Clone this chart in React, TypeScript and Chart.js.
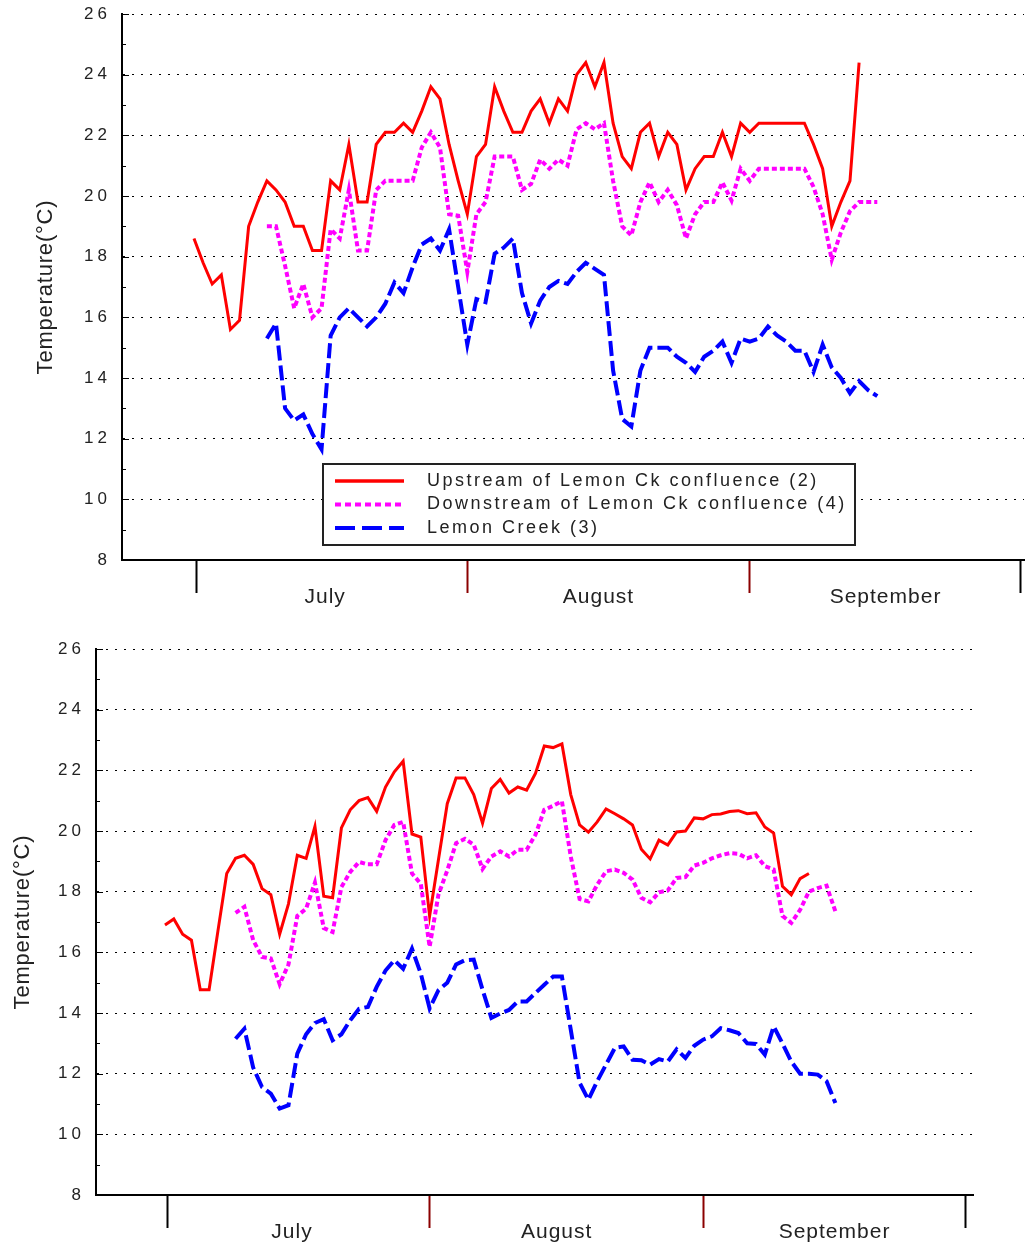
import React, { useEffect, useRef } from 'react';
import { Chart, registerables } from 'chart.js';

Chart.register(...registerables);
Chart.defaults.font.family = '"Liberation Sans", Arial, sans-serif';
Chart.defaults.color = '#222';

// ---- categories / ticks ----
const months = ['July', 'August', 'September'];
const monthBoundaries = [0.3, 30, 61, 90.7]; // day index of month boundaries
const monthLabelPos = [14.4, 44.4, 75.9]; // day index where month names sit
const seriesNames = [
  'Upstream of Lemon Ck confluence (2)',
  'Downstream of Lemon Ck confluence (4)',
  'Lemon Creek (3)',
];
const upstreamStartDay = 0;
const otherStartDay = 8;

// ---- top panel (°C, one value per day) ----
const topUpstream = [
  18.6, 17.8, 17.1, 17.4, 15.6, 15.9, 19.0, 19.8, 20.5, 20.2,
  19.8, 19.0, 19.0, 18.2, 18.2, 20.5, 20.2, 21.7, 19.8, 19.8,
  21.7, 22.1, 22.1, 22.4, 22.1, 22.8, 23.6, 23.2, 21.7, 20.5,
  19.4, 21.3, 21.7, 23.6, 22.8, 22.1, 22.1, 22.8, 23.2, 22.4,
  23.2, 22.8, 24.0, 24.4, 23.6, 24.4, 22.4, 21.3, 20.9, 22.1,
  22.4, 21.3, 22.1, 21.7, 20.2, 20.9, 21.3, 21.3, 22.1, 21.3,
  22.4, 22.1, 22.4, 22.4, 22.4, 22.4, 22.4, 22.4, 21.7, 20.9,
  19.0, 19.8, 20.5, 24.4,
];
const topDownstream = [
  19.0, 19.0,
  17.7, 16.3, 17.1, 16.0, 16.3, 18.9, 18.6, 20.2, 18.2, 18.2,
  20.2, 20.5, 20.5, 20.5, 20.5, 21.6, 22.1, 21.6, 19.4, 19.35,
  17.5, 19.4, 19.8, 21.3, 21.3, 21.3, 20.2, 20.4, 21.2, 20.9,
  21.2, 21.0, 22.2, 22.4, 22.2, 22.4, 20.5, 19.0, 18.7, 19.8,
  20.45, 19.8, 20.2, 19.7, 18.6, 19.4, 19.8, 19.8, 20.45, 19.85,
  20.9, 20.5, 20.9, 20.9, 20.9, 20.9, 20.9, 20.9, 20.3, 19.4,
  17.9, 18.8, 19.5, 19.8, 19.8, 19.8,
];
const topCreek = [
  15.3, 15.8,
  13.0, 12.6, 12.8, 12.15, 11.65, 15.4, 16.0, 16.3, 16.0, 15.7,
  16.0, 16.45, 17.15, 16.8, 17.65, 18.4, 18.6, 18.2, 18.9, 17.0,
  15.1, 16.6, 16.5, 18.1, 18.3, 18.6, 16.8, 15.8, 16.55, 17.0,
  17.2, 17.1, 17.5, 17.8, 17.6, 17.4, 14.25, 12.65, 12.4, 14.25,
  15.0, 15.0, 15.0, 14.7, 14.5, 14.2, 14.7, 14.9, 15.2, 14.5,
  15.3, 15.2, 15.3, 15.7, 15.4, 15.2, 14.9, 14.9, 14.2, 15.1,
  14.35, 14.0, 13.5, 13.9, 13.6, 13.4,
];

// ---- bottom panel ----
const botUpstream = [
  16.9, 17.1, 16.6, 16.4, 14.77, 14.77, 16.7, 18.6, 19.1, 19.2,
  18.9, 18.1, 17.9, 16.6, 17.6, 19.2, 19.1, 20.15, 17.85, 17.8,
  20.1, 20.7, 21.0, 21.1, 20.65, 21.45, 21.95, 22.3, 19.9, 19.8,
  17.2, 19.05, 20.9, 21.75, 21.75, 21.2, 20.26, 21.4, 21.7, 21.25,
  21.45, 21.35, 21.9, 22.8, 22.75, 22.87, 21.2, 20.2, 19.96, 20.3,
  20.73, 20.57, 20.4, 20.2, 19.4, 19.08, 19.7, 19.54, 19.97, 20.0,
  20.43, 20.4, 20.54, 20.56, 20.64, 20.67, 20.57, 20.6, 20.13, 19.93,
  18.18, 17.9, 18.43, 18.6,
];
const botDownstream = [
  17.3, 17.5,
  16.4, 15.85, 15.8, 14.95, 15.6, 17.2, 17.44, 18.3, 16.8, 16.67,
  18.15, 18.65, 18.98, 18.9, 18.9, 19.7, 20.2, 20.3, 18.6, 18.26,
  16.18, 17.9, 18.7, 19.6, 19.74, 19.55, 18.75, 19.16, 19.33, 19.16,
  19.38, 19.38, 19.88, 20.7, 20.83, 20.98, 19.16, 17.76, 17.68, 18.23,
  18.67, 18.73, 18.62, 18.4, 17.8, 17.65, 17.98, 18.04, 18.45, 18.48,
  18.86, 18.95, 19.1, 19.2, 19.27, 19.25, 19.1, 19.2, 18.84, 18.73,
  17.2, 16.97, 17.4, 18.0, 18.12, 18.2, 17.35,
];
const botCreek = [
  13.15, 13.48,
  12.2, 11.56, 11.34, 10.85, 10.96, 12.66, 13.3, 13.67, 13.8, 13.1,
  13.3, 13.76, 14.14, 14.2, 14.86, 15.4, 15.74, 15.46, 16.12, 15.3,
  14.15, 14.75, 15.0, 15.6, 15.74, 15.76, 14.77, 13.84, 13.98, 14.1,
  14.38, 14.38, 14.66, 14.93, 15.2, 15.2, 13.45, 11.7, 11.14, 11.75,
  12.3, 12.85, 12.9, 12.46, 12.44, 12.3, 12.48, 12.4, 12.8, 12.52,
  12.92, 13.12, 13.23, 13.5, 13.43, 13.34, 13.0, 12.98, 12.63, 13.56,
  13.0, 12.4, 12.0, 12.0, 11.97, 11.75, 11.03,
];

const toPoints = (vals: number[], start: number) => vals.map((v, i) => ({ x: start + i, y: v }));

function spacingPlugin(xSp: string, ySp: string, titleSp: string) {
  return {
    id: 'letterSpacingPlugin',
    afterUpdate(chart: any) {
      const ctx = chart.ctx;
      Object.values(chart.scales).forEach((s: any) => {
        if (s.__spaced) return;
        s.__spaced = true;
        const sp = s.axis === 'x' ? xSp : ySp;
        const dl = s.drawLabels;
        s.drawLabels = function (area: any) {
          ctx.save();
          ctx.letterSpacing = sp;
          dl.call(this, area);
          ctx.restore();
        };
        const dt = s.drawTitle;
        s.drawTitle = function () {
          ctx.save();
          ctx.letterSpacing = titleSp;
          dt.call(this);
          ctx.restore();
        };
      });
    },
  };
}

const minorTicksPlugin = {
  id: 'minorTicks',
  afterDatasetsDraw(chart: any) {
    const y = chart.scales.y;
    const ctx = chart.ctx;
    const x0 = chart.chartArea.left;
    ctx.save();
    ctx.strokeStyle = '#000';
    ctx.lineWidth = 1;
    for (let v = y.min + 1; v <= y.max; v++) {
      const py = Math.round(y.getPixelForValue(v)) + 0.5;
      const len = v % 2 === 0 ? 7 : 4;
      ctx.beginPath();
      ctx.moveTo(x0, py);
      ctx.lineTo(x0 + len, py);
      ctx.stroke();
    }
    ctx.restore();
  },
};

const legendDashes = [[], [6, 4], [20, 7]];
const boxLegendPlugin = {
  id: 'boxLegend',
  afterDatasetsDraw(chart: any) {
    const ctx = chart.ctx;
    const box = { left: 323, top: 464, right: 855, bottom: 545 };
    const rows = [481, 504.5, 528];
    ctx.save();
    ctx.fillStyle = '#fff';
    ctx.fillRect(box.left, box.top, box.right - box.left, box.bottom - box.top);
    ctx.strokeStyle = '#222';
    ctx.lineWidth = 2;
    ctx.strokeRect(box.left, box.top, box.right - box.left, box.bottom - box.top);
    chart.data.datasets.forEach((ds: any, i: number) => {
      ctx.save();
      ctx.strokeStyle = ds.borderColor;
      ctx.lineWidth = i === 0 ? 3.5 : 4;
      ctx.setLineDash(legendDashes[i]);
      ctx.beginPath();
      ctx.moveTo(335, rows[i]);
      ctx.lineTo(404, rows[i]);
      ctx.stroke();
      ctx.restore();
      ctx.fillStyle = '#222';
      ctx.font = '18px "Liberation Sans", Arial, sans-serif';
      (ctx as any).letterSpacing = '2.5px';
      ctx.textBaseline = 'middle';
      ctx.textAlign = 'left';
      ctx.fillText(ds.label, 427, rows[i]);
    });
    ctx.restore();
  },
};

type PanelCfg = {
  up: number[];
  down: number[];
  creek: number[];
  padTop: number;
  padRight: number;
  yAxisWidth: number;
  xAxisHeight: number;
  xMin: number;
  xMax: number;
  titlePad: number;
  legend: boolean;
};

function buildConfig(p: PanelCfg): any {
  const tickSet = [...monthBoundaries, ...monthLabelPos].sort((a, b) => a - b);
  return {
    type: 'line',
    data: {
      datasets: [
        {
          label: seriesNames[0],
          data: toPoints(p.up, upstreamStartDay),
          borderColor: '#ff0000',
          borderWidth: 3,
          pointRadius: 0,
          tension: 0,
          fill: false,
        },
        {
          label: seriesNames[1],
          data: toPoints(p.down, otherStartDay),
          borderColor: '#ff00ff',
          borderWidth: 4,
          borderDash: [5, 3],
          pointRadius: 0,
          tension: 0,
          fill: false,
        },
        {
          label: seriesNames[2],
          data: toPoints(p.creek, otherStartDay),
          borderColor: '#0000ff',
          borderWidth: 4,
          borderDash: [15, 5],
          pointRadius: 0,
          tension: 0,
          fill: false,
        },
      ],
    },
    options: {
      animation: false,
      responsive: false,
      maintainAspectRatio: false,
      layout: { padding: { top: p.padTop, right: p.padRight, left: 0, bottom: 0 } },
      plugins: { legend: { display: false }, tooltip: { enabled: false } },
      scales: {
        x: {
          type: 'linear',
          min: p.xMin,
          max: p.xMax,
          afterFit: (s: any) => {
            s.height = p.xAxisHeight;
            s.paddingLeft = 0;
            s.paddingRight = 0;
          },
          afterBuildTicks: (s: any) => {
            s.ticks = tickSet.map((v) => ({ value: v }));
          },
          ticks: {
            autoSkip: false,
            maxRotation: 0,
            minRotation: 0,
            padding: -8,
            color: '#222',
            font: { size: 21 },
            callback: (v: number) => {
              const k = monthLabelPos.indexOf(v);
              return k >= 0 ? months[k] : '';
            },
          },
          grid: {
            drawOnChartArea: false,
            drawTicks: true,
            tickLength: 33,
            tickWidth: 2,
            tickColor: (c: any) => {
              const v = c.tick ? c.tick.value : null;
              const k = monthBoundaries.indexOf(v);
              if (k < 0) return 'rgba(0,0,0,0)';
              return k === 0 || k === monthBoundaries.length - 1 ? '#000' : '#8b0000';
            },
          },
          border: { display: true, color: '#000', width: 2 },
        },
        y: {
          min: 8,
          max: 26,
          afterFit: (s: any) => {
            s.width = p.yAxisWidth;
            s.paddingTop = 0;
            s.paddingBottom = 0;
          },
          ticks: { stepSize: 2, padding: 11, color: '#222', font: { size: 17 } },
          grid: { color: '#000', lineWidth: 1, drawTicks: false },
          border: { display: true, color: '#000', width: 2, dash: [2, 7] },
          title: {
            display: true,
            text: 'Temperature(°C)',
            color: '#222',
            font: { size: 22 },
            padding: { top: p.titlePad, bottom: 0 },
          },
        },
      },
    },
    plugins: [
      spacingPlugin('1px', '4px', '0.8px'),
      minorTicksPlugin,
      ...(p.legend ? [boxLegendPlugin] : []),
    ],
  };
}

const topCfg: PanelCfg = {
  up: topUpstream,
  down: topDownstream,
  creek: topCreek,
  padTop: 14,
  padRight: 1,
  yAxisWidth: 122,
  xAxisHeight: 60,
  xMin: -7.9,
  xMax: 91.1,
  titlePad: 33,
  legend: true,
};

const botCfg: PanelCfg = {
  up: botUpstream,
  down: botDownstream,
  creek: botCreek,
  padTop: 29,
  padRight: 52,
  yAxisWidth: 96,
  xAxisHeight: 52,
  xMin: -7.82,
  xMax: 91.6,
  titlePad: 10,
  legend: false,
};

function TempChart({ top, height, cfg }: { top: number; height: number; cfg: PanelCfg }) {
  const ref = useRef<HTMLCanvasElement>(null);
  useEffect(() => {
    const chart = new Chart(ref.current as HTMLCanvasElement, buildConfig(cfg));
    return () => chart.destroy();
  }, [cfg]);
  return (
    <div style={{ position: 'absolute', left: 0, top, width: 1025, height }}>
      <canvas ref={ref} width={1025} height={height} style={{ display: 'block', width: 1025, height }} />
    </div>
  );
}

export default function App() {
  return (
    <div style={{ position: 'absolute', left: 0, top: 0, width: 1025, height: 1247, background: '#fff' }}>
      <TempChart top={0} height={620} cfg={topCfg} />
      <TempChart top={620} height={627} cfg={botCfg} />
    </div>
  );
}
